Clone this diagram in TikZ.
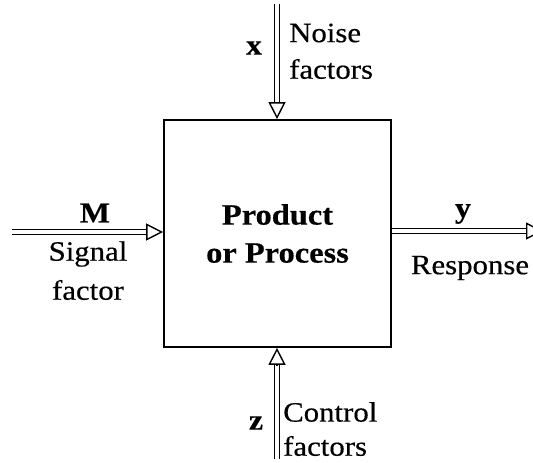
\documentclass[tikz,border=0pt]{standalone}
\usepackage{fontspec}
\setmainfont{Liberation Serif}[FakeStretch=1.1, FakeBold=0.4]
\usetikzlibrary{arrows.meta}
\tikzset{
  shaft/.style={draw=black, line width=1.4pt, double=white, double distance=4pt},
  tiphead/.style={line width=1.4pt, -{Triangle[open, length=17pt, width=17pt, line width=1.4pt]}},
  lbl/.style={font=\fontsize{28}{30}\selectfont, inner sep=0pt},
  bl/.style={font=\bfseries\fontsize{29}{30}\selectfont, inner sep=0pt},
}
\begin{document}
\begin{tikzpicture}[x=1pt, y=-1pt]
\useasboundingbox (0,0) rectangle (533,463);
\node[draw, line width=1.7pt, minimum width=227pt, minimum height=227pt, inner sep=0pt,
      align=center, font=\bfseries\fontsize{29.5}{38}\selectfont] (box) at (277.5,233.5)
  {Product\\or Process};
% top arrow
\coordinate (tA) at (277,4);
\coordinate (tB) at ([yshift=17pt]box.north -| tA);
\coordinate (tC) at (box.north -| tA);
\draw[shaft] (tA) -- (tB);
\draw[tiphead] (tB) -- (tC);
% bottom arrow
\coordinate (bA) at (277,459);
\coordinate (bB) at ([yshift=-17pt]box.south -| bA);
\coordinate (bC) at (box.south -| bA);
\draw[shaft] (bA) -- (bB);
\draw[tiphead] (bB) -- (bC);
% left arrow
\coordinate (lA) at (12,232);
\coordinate (lB) at ([xshift=-17pt]box.west |- lA);
\coordinate (lC) at (box.west |- lA);
\draw[shaft] (lA) -- (lB);
\draw[tiphead] (lB) -- (lC);
% right arrow
\coordinate (rA) at (box.east |- 0,231);
\coordinate (rB) at (526,231);
\coordinate (rC) at (543,231);
\draw[shaft] (rA) -- (rB);
\draw[tiphead] (rB) -- (rC);
% labels
\node[bl] (x) at (254,48) {x};
\node[lbl, anchor=west] (noise) at (289,33) {Noise};
\node[lbl, anchor=west] (nf) at (289,69) {factors};
\node[bl] (M) at (95,213) {M};
\node[lbl] (sig) at (88,254) {Signal};
\node[lbl] (sf) at (88,290) {factor};
\node[bl] (y) at (463,214) {y};
\node[lbl] (resp) at (470,268) {Response};
\node[bl] (z) at (256,423) {z};
\node[lbl, anchor=west] (ctl) at (283,412) {Control};
\node[lbl, anchor=west] (cf) at (283,446) {factors};
\end{tikzpicture}
\end{document}
